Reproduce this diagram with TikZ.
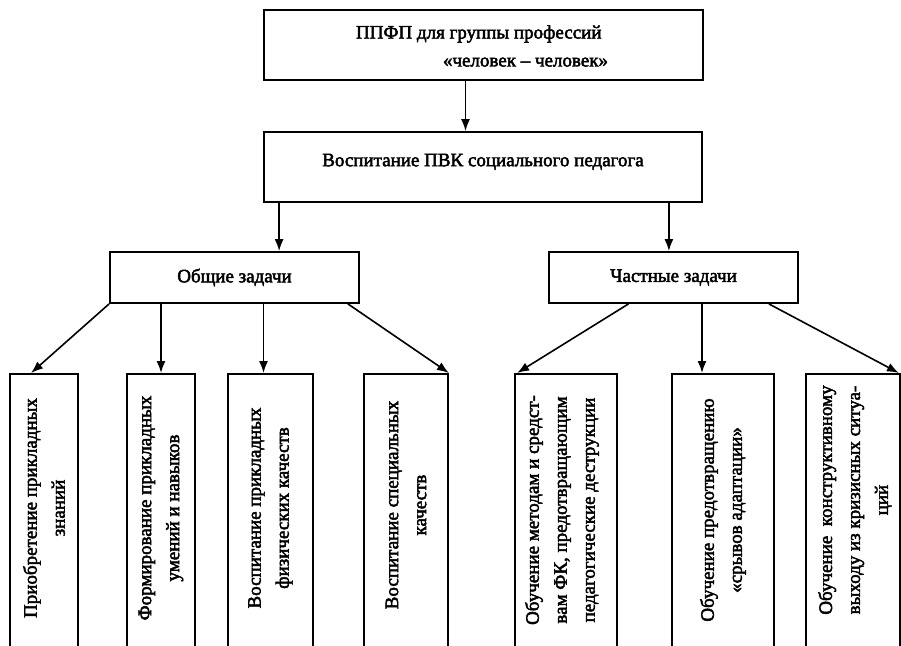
\documentclass[tikz,border=0pt]{standalone}
\usepackage{fontspec}
\setmainfont{Liberation Serif}[FakeBold=2.5]
\usetikzlibrary{arrows.meta}

\tikzset{
	box/.style={draw, line width=1.8pt, inner sep=0pt},
	vtext/.style={rotate=90, align=center, inner sep=0pt},
	arr/.style={-{Latex[length=12pt,width=9pt]}, line width=1.6pt}
}

\begin{document}
\begin{tikzpicture}[x=1pt,y=-1pt,font=\fontsize{19}{28}\selectfont]
		\useasboundingbox (0,0) rectangle (901,645);
		\clip (0,0) rectangle (901,645);
		% upper levels
		\draw (483.5,45) node[box, minimum width=439, minimum height=70] (ppfp) {}
		(482,46) node[align=left, inner sep=0pt] (ppfptxt) {ППФП для группы профессий\\\hspace*{87pt}«человек – человек»}
		(483,167) node[box, minimum width=438, minimum height=70, text depth=14pt] (pvk) {Воспитание ПВК социального педагога}
		(234.5,277.5) node[box, minimum width=249, minimum height=51] (obsh) {Общие задачи}
		(673.5,277.5) node[box, minimum width=249, minimum height=51] (chast) {Частные задачи};
		
		% lower boxes, cut by the page edge
		\draw (44,373) node[box, anchor=north, minimum width=68, minimum height=300] (b1) {}
		(161,373) node[box, anchor=north, minimum width=68, minimum height=300] (b2) {}
		(270.5,373) node[box, anchor=north, minimum width=85, minimum height=300] (b3) {}
		(406,373) node[box, anchor=north, minimum width=84, minimum height=300] (b4) {}
		(566,373) node[box, anchor=north, minimum width=102, minimum height=300] (b5) {}
		(723,373) node[box, anchor=north, minimum width=102, minimum height=300] (b6) {}
		(853,373) node[box, anchor=north, minimum width=94, minimum height=300] (b7) {};
		
		\draw (44,508) node[vtext] (t1) {Приобретение прикладных\\знаний}
		(161,508) node[vtext] (t2) {Формирование прикладных\\умений и навыков}
		(270.5,508) node[vtext] (t3) {Воспитание прикладных\\физических качеств}
		(406,505) node[vtext] (t4) {Воспитание специальных\\качеств}
		(562,510) node[vtext] (t5) {Обучение методам и средст-\\вам ФК, предотвращающим\\педагогические деструкции}
		(723,510) node[vtext] (t6) {Обучение предотвращению\\«срывов адаптации»}
		(855,500) node[vtext] (t7) {Обучение\ \ конструктивному\\выходу из кризисных ситуа-\\ций};
		
		\draw[arr] ([xshift=-18pt]ppfp.south) -- ([xshift=-18pt]ppfp.south |- pvk.north);
		\draw[arr] ([xshift=16pt]pvk.south west) -- ([xshift=16pt]pvk.south west |- obsh.north);
		\draw[arr] ([xshift=-34pt]pvk.south east) -- ([xshift=-34pt]pvk.south east |- chast.north);
		\draw[arr] (obsh.south west) -- ([xshift=22pt]b1.north west);
		\draw[arr] (b2.north |- obsh.south) -- (b2.north);
		\draw[arr] ([xshift=-7pt]b3.north |- obsh.south) -- ([xshift=-7pt]b3.north);
		\draw[arr] ([xshift=-12pt]obsh.south east) -- (b4.north east);
		\draw[arr] ([xshift=-45pt]chast.south) -- ([xshift=3pt]b5.north west);
		\draw[arr] ([xshift=-21pt]b6.north |- chast.south) -- ([xshift=-21pt]b6.north);
		\draw[arr] ([xshift=-30pt]chast.south east) -- ([xshift=-2pt]b7.north east);
	\end{tikzpicture}
\end{document}
